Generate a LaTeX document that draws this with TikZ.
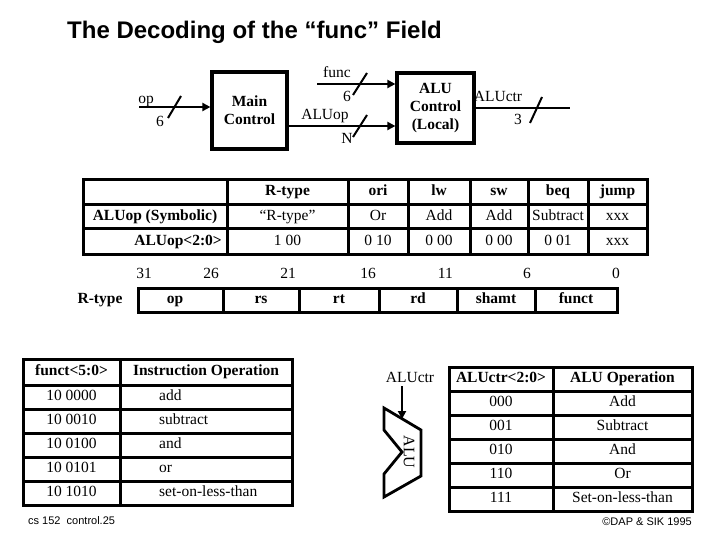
\documentclass[tikz,border=0pt]{standalone}
\usepackage{fontspec}
\setmainfont{Liberation Serif}
\newfontfamily\arialfont{Liberation Sans}
\usetikzlibrary{arrows.meta}

\begin{document}
\begin{tikzpicture}[x=1pt, y=-1pt,
    every node/.style={font=\fontsize{15.5}{17}\selectfont, inner sep=0pt},
    cell/.style={text height=10.5pt, text depth=3.5pt},
    hdr/.style={font=\fontsize{15.5}{17}\selectfont\bfseries},
    box/.style={draw, line width=3.2pt, align=center, font=\fontsize{15.5}{18}\selectfont\bfseries},
    bus/.style={line width=2.8pt, -{Triangle[length=8pt,width=8pt]}},
    wire/.style={line width=2.8pt},
    slash/.style={line width=2pt},
    tbl/.style={line width=3pt},
    foot/.style={font=\arialfont\fontsize{11}{13}\selectfont}]
\useasboundingbox (0,0) rectangle (720,540);

\node[font=\arialfont\bfseries\fontsize{24}{28}\selectfont, anchor=west] (title) at (67,32) {The Decoding of the “func” Field};

% main control and local ALU control
\node[box, minimum width=75pt, minimum height=77pt] (main) at (249.5,110.5) {Main\\Control};
\node[box, minimum width=77pt, minimum height=70pt] (aluctl) at (435.5,108) {ALU\\Control\\(Local)};

\coordinate (opin) at (139,107);
\draw[bus] (opin) -- (opin -| main.west);
\draw[slash] (168,118) -- (181,96);
\node[cell] (oplbl) at (146,100) {op};
\node[cell] (opw) at (160,123) {6};

\coordinate (funcin) at (317,84);
\draw[bus] (funcin) -- (funcin -| aluctl.west);
\draw[slash] (353,95) -- (367,73);
\node[cell] (funclbl) at (337,74) {func};
\node[cell] (funcw) at (347,98) {6};

\coordinate (aluopy) at (0,126);
\draw[bus] (main.east |- aluopy) -- (aluctl.west |- aluopy);
\draw[slash] (353,137) -- (367,115);
\node[cell] (aluoplbl) at (325,116) {ALUop};
\node[cell] (aluopw) at (347,140) {N};

\coordinate (ctrend) at (570,108);
\draw[wire] (aluctl.east) -- (ctrend);
\draw[slash] (530,123) -- (542,97);
\node[cell] (ctrlbl) at (498,98) {ALUctr};
\node[cell] (ctrw) at (518,121) {3};

% ALUop table
\draw[tbl] (83,180) rectangle (647,254);
\foreach \y in {205,229} \draw[tbl] (83,\y) -- (647,\y);
\foreach \x in {227,348,408,470,528,588} \draw[tbl] (\x,180) -- (\x,254);
\node[hdr,cell] (symlbl) at (155,217) {ALUop (Symbolic)};
\node[hdr,cell,anchor=east] (bitslbl) at (222,241.5) {ALUop<2:0>};
\foreach \x/\n/\a/\b/\c in {287.5/rt/R-type/“R-type”/1 00, 378/ori/ori/Or/0 10, 439/lw/lw/Add/0 00, 499/sw/sw/Add/0 00, 558/beq/beq/Subtract/0 01, 617.5/jmp/jump/xxx/xxx} {
  \node[hdr,cell] (\n-h) at (\x,192.5) {\a};
  \node[cell] (\n-s) at (\x,217) {\b};
  \node[cell] (\n-b) at (\x,241.5) {\c};
}

% R-type format
\node[hdr,cell] (rtype) at (100,300) {R-type};
\draw[tbl] (138,288) rectangle (617,312);
\foreach \x in {223,299,379,457,535} \draw[tbl] (\x,288) -- (\x,312);
\foreach \x/\f in {175/op,261/rs,339/rt,418/rd,496/shamt,576/funct}
  \node[hdr,cell] (f-\f) at (\x,300) {\f};
\node[cell] (bit31) at (144,275) {31};
\foreach \x/\b in {219/26,296/21,376/16,453/11,531/6,620/0}
  \node[cell,anchor=east] (bit\b) at (\x,275) {\b};

% funct table
\draw[tbl] (23,359) rectangle (292,505);
\draw[tbl] (120,359) -- (120,505);
\foreach \y in {385,409,433,457,481} \draw[tbl] (23,\y) -- (292,\y);
\node[hdr,cell] (fhdr) at (71.5,372) {funct<5:0>};
\node[hdr,cell] (ohdr) at (206,372) {Instruction Operation};
\foreach \y/\c/\o [count=\i] in {397/10 0000/add, 421/10 0010/subtract, 445/10 0100/and, 469/10 0101/or, 493/10 1010/set-on-less-than} {
  \node[cell] (fc\i) at (71.5,\y) {\c};
  \node[cell,anchor=west] (fo\i) at (159,\y) {\o};
}

% ALU symbol
\draw[wire, line join=miter] (384,408) -- (421,430) -- (421,476) -- (384,497) -- (384,474) -- (402,452) -- (384,430) -- cycle;
\node[font=\fontsize{16}{18}\selectfont, rotate=-90] (alulbl) at (409,452) {ALU};
\node[cell] (alulctr) at (410,379) {ALUctr};
\coordinate (alutop) at (402,419);
\draw[bus] (alulctr.south -| alutop) -- (alutop);

% ALUctr table
\draw[tbl] (449,367) rectangle (692,511);
\draw[tbl] (553,367) -- (553,511);
\foreach \y in {391,415,439,463,487} \draw[tbl] (449,\y) -- (692,\y);
\node[hdr,cell] (chdr) at (501,379) {ALUctr<2:0>};
\node[hdr,cell] (ahdr) at (622.5,379) {ALU Operation};
\foreach \y/\c/\o [count=\i] in {403/000/Add, 427/001/Subtract, 451/010/And, 475/110/Or, 499/111/Set-on-less-than} {
  \node[cell] (cc\i) at (501,\y) {\c};
  \node[cell] (co\i) at (622.5,\y) {\o};
}

\node[foot, anchor=west] (pg) at (28,521) {cs 152\ \ control.25};
\node[foot, anchor=east] (copy) at (692,522) {©DAP \& SIK 1995};
\end{tikzpicture}
\end{document}
